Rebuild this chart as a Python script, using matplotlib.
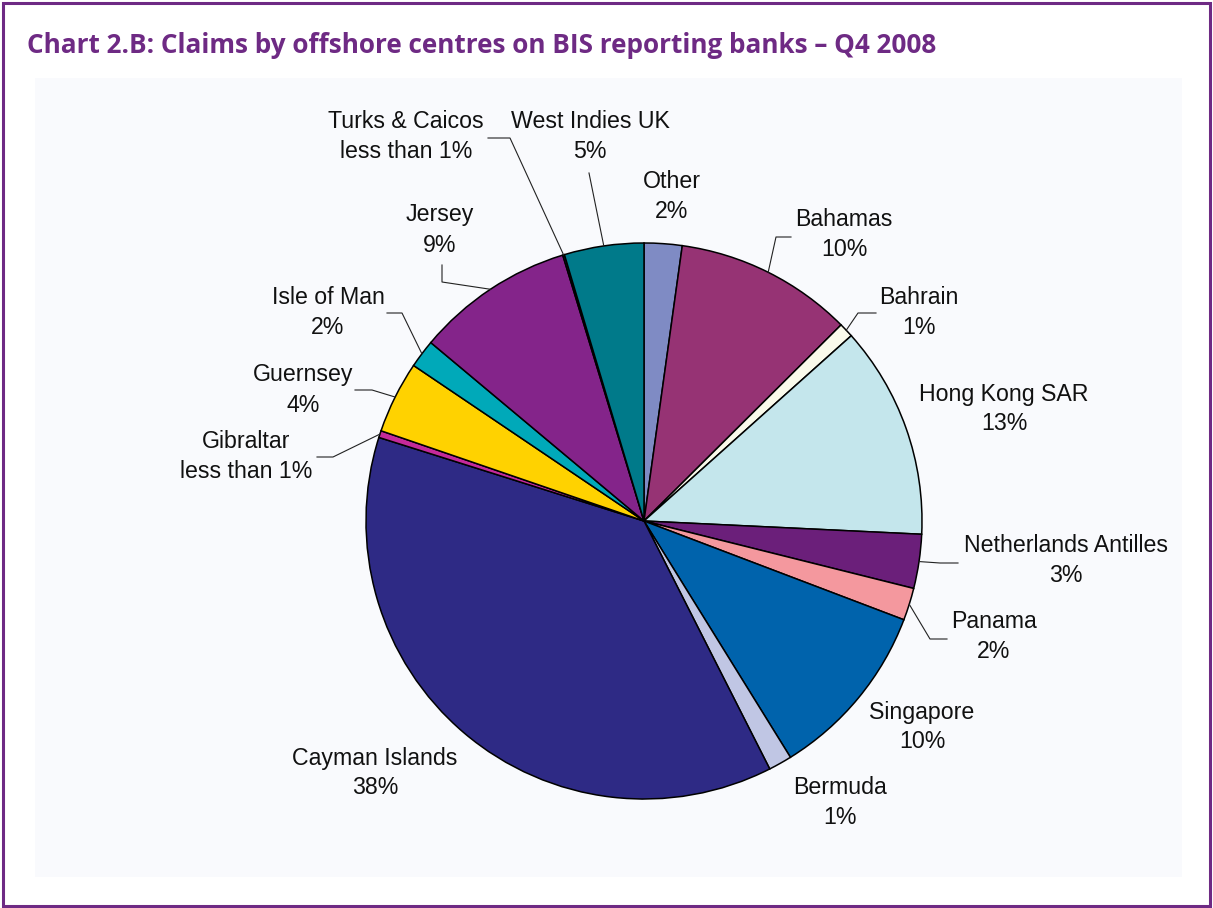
import matplotlib
matplotlib.use("Agg")
import matplotlib.pyplot as plt
import numpy as np
from matplotlib.patches import Rectangle

W, H = 1213, 908

CENTRES = ["Other", "Bahamas", "Bahrain", "Hong Kong SAR", "Netherlands Antilles",
           "Panama", "Singapore", "Bermuda", "Cayman Islands", "Gibraltar",
           "Guernsey", "Isle of Man", "Jersey", "Turks & Caicos", "West Indies UK"]
SHARES = [2.2, 10.34, 0.85, 12.37, 3.14, 1.88, 10.39, 1.36, 37.33, 0.4,
          4.19, 1.64, 9.19, 0.1, 4.62]
PCT_LABELS = ["2%", "10%", "1%", "13%", "3%", "2%", "10%", "1%", "38%",
              "less than 1%", "4%", "2%", "9%", "less than 1%", "5%"]
COLORS = ["#7F8BC4", "#963374", "#FAFAEB", "#C4E6EC", "#6B1F7A", "#F4989E",
          "#0063AC", "#C0C6E4", "#2E2A85", "#C42A9B", "#FFD200", "#00A9B9",
          "#84248A", "#3A3A8C", "#007A8A"]

# label centre positions in pixels (x, y of the block centre)
LABEL_POS = [(672, 197), (844, 235), (919, 312), (1004, 409), (1066, 561),
             (994, 636), (922, 727), (840, 803), (375, 773), (246, 456),
             (303, 390), (328, 312), (440, 230), (406, 137), (590, 137)]
# leader line points after the wedge edge (pixels); None = no leader
LEADERS = [None, [(776, 237), (791, 237)], [(858, 313), (876, 313)], None,
           [(940, 563), (958, 563)], [(930, 639), (947, 639)], None, None, None,
           [(333, 457), (317, 457)], [(372, 390), (355, 390)],
           [(402, 313), (387, 313)], [(442, 282), (442, 265)],
           [(510, 138), (488, 138)], [(589, 173)]]

PIE_CX, PIE_CY, PIE_R = 644, 521, 278
PURPLE = "#6E2A84"


def main() -> None:
    fig = plt.figure(figsize=(W / 100, H / 100), dpi=100)
    fig.patch.set_facecolor("white")
    ax = fig.add_axes([0, 0, 1, 1])

    def y(py):
        return H - py

    # plot area + outer border
    ax.add_patch(Rectangle((35, y(877)), 1182 - 35, 877 - 78,
                           facecolor="#F9FAFD", edgecolor="none", zorder=0))
    ax.add_patch(Rectangle((3, y(906)), 1207, 903, facecolor="none",
                           edgecolor=PURPLE, linewidth=2.2, zorder=5))

    wedges, _ = ax.pie(SHARES, colors=COLORS, startangle=90, counterclock=False,
                       center=(PIE_CX, y(PIE_CY)), radius=PIE_R,
                       wedgeprops=dict(edgecolor="black", linewidth=1.1))

    for w, name, pct, (lx, ly), lead in zip(wedges, CENTRES, PCT_LABELS,
                                            LABEL_POS, LEADERS):
        ax.text(lx, y(ly - 15), name, ha="center", va="center", fontsize=16.7,
                family="Liberation Sans", color="#111111")
        ax.text(lx, y(ly + 15), pct, ha="center", va="center", fontsize=16.7,
                family="Liberation Sans", color="#111111")
        if lead is None:
            continue
        mid = np.deg2rad((w.theta1 + w.theta2) / 2)
        xs = [PIE_CX + PIE_R * np.cos(mid)] + [p[0] for p in lead]
        ys = [y(PIE_CY) + PIE_R * np.sin(mid)] + [y(p[1]) for p in lead]
        ax.plot(xs, ys, color="#222222", lw=0.8, zorder=3)

    ax.text(27, y(53), "Chart 2.B: Claims by offshore centres on BIS reporting banks \u2013 Q4 2008",
            ha="left", va="baseline", fontsize=18.8, fontweight="bold",
            family="Open Sans", color=PURPLE)

    ax.set_xlim(0, W)
    ax.set_ylim(0, H)
    ax.set_aspect("equal")
    ax.axis("off")

    fig.savefig("out.png", dpi=100)
    plt.close(fig)


if __name__ == "__main__":
    main()
